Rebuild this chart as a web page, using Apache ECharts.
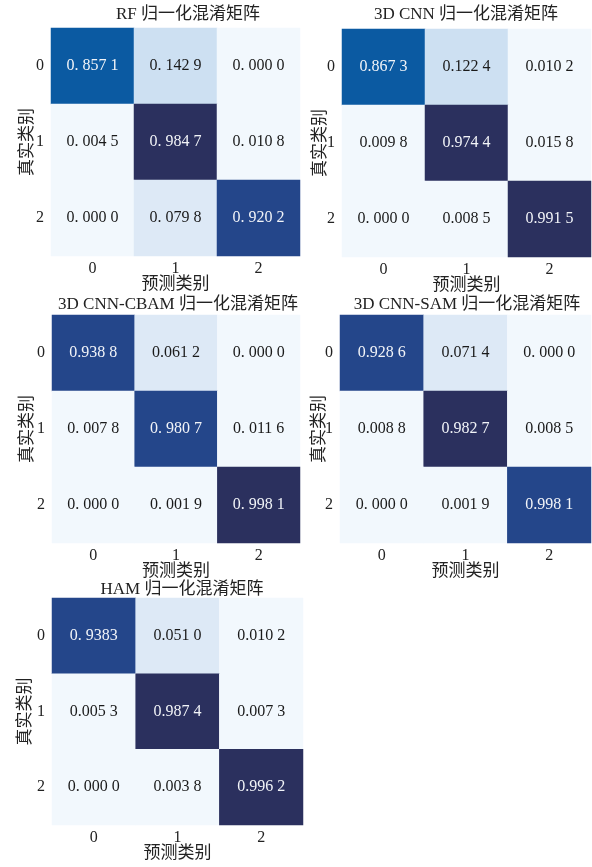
<!DOCTYPE html>
<html>
<head>
<meta charset="utf-8">
<script src="https://cdn.jsdelivr.net/npm/echarts@6/dist/echarts.min.js"></script>
<style>html,body{margin:0;padding:0;background:#fff}#c{width:592px;height:867px}</style>
</head>
<body>
<div id="c"></div>
<script>
const categories = ['0', '1', '2'];
const xName = '预测类别';
const yName = '真实类别';
const titles = ['RF 归一化混淆矩阵', '3D CNN 归一化混淆矩阵', '3D CNN-CBAM 归一化混淆矩阵', '3D CNN-SAM 归一化混淆矩阵', 'HAM 归一化混淆矩阵'];

const rfValues = [[0.8571, 0.1429, 0.0000], [0.0045, 0.9847, 0.0108], [0.0000, 0.0798, 0.9202]];
const rfLabels = [['0. 857 1', '0. 142 9', '0. 000 0'], ['0. 004 5', '0. 984 7', '0. 010 8'], ['0. 000 0', '0. 079 8', '0. 920 2']];
const cnnValues = [[0.8673, 0.1224, 0.0102], [0.0098, 0.9744, 0.0158], [0.0000, 0.0085, 0.9915]];
const cnnLabels = [['0.867 3', '0.122 4', '0.010 2'], ['0.009 8', '0.974 4', '0.015 8'], ['0. 000 0', '0.008 5', '0.991 5']];
const cbamValues = [[0.9388, 0.0612, 0.0000], [0.0078, 0.9807, 0.0116], [0.0000, 0.0019, 0.9981]];
const cbamLabels = [['0.938 8', '0.061 2', '0. 000 0'], ['0. 007 8', '0. 980 7', '0. 011 6'], ['0. 000 0', '0. 001 9', '0. 998 1']];
const samValues = [[0.9286, 0.0714, 0.0000], [0.0088, 0.9827, 0.0085], [0.0000, 0.0019, 0.9981]];
const samLabels = [['0.928 6', '0.071 4', '0. 000 0'], ['0.008 8', '0.982 7', '0.008 5'], ['0. 000 0', '0.001 9', '0.998 1']];
const hamValues = [[0.9383, 0.0510, 0.0102], [0.0053, 0.9874, 0.0073], [0.0000, 0.0038, 0.9962]];
const hamLabels = [['0. 9383', '0.051 0', '0.010 2'], ['0.005 3', '0.987 4', '0.007 3'], ['0. 000 0', '0.003 8', '0.996 2']];

const panels = [
  { values: rfValues, labels: rfLabels },
  { values: cnnValues, labels: cnnLabels },
  { values: cbamValues, labels: cbamLabels },
  { values: samValues, labels: samLabels },
  { values: hamValues, labels: hamLabels }
];

// layout
const grids = [
  { left: 51, top: 28, width: 249, height: 228 },
  { left: 342, top: 29, width: 249, height: 228 },
  { left: 52, top: 315, width: 248, height: 228 },
  { left: 340, top: 315, width: 251, height: 228 },
  { left: 52, top: 598, width: 251, height: 227 }
];
const titlePos = [[188, 6], [466, 6], [178, 296], [467, 296], [182, 581]];
const yNameGaps = [15, 13, 16, 12, 18];

const DARK = '#2b305e', MED = '#24468a', BLUE = '#0b5aa2';
const lowPieces = [
  { gte: 0.1, lt: 0.2, color: '#cde0f2' },
  { gte: 0.04, lt: 0.1, color: '#dde9f6' },
  { gte: 0, lt: 0.04, color: '#f2f8fd' },
  { gte: 0.8, lt: 0.9, color: BLUE }
];
const highPieces = [
  [{ gte: 0.9, lt: 0.97, color: MED }, { gte: 0.97, lte: 1, color: DARK }],
  [{ gte: 0.9, lte: 1, color: DARK }],
  [{ gte: 0.9, lt: 0.99, color: MED }, { gte: 0.99, lte: 1, color: DARK }],
  [{ gte: 0.9, lt: 0.95, color: MED }, { gte: 0.95, lt: 0.99, color: DARK }, { gte: 0.99, lte: 1, color: MED }],
  [{ gte: 0.9, lt: 0.95, color: MED }, { gte: 0.95, lte: 1, color: DARK }]
];

const FONT = '"Liberation Serif", "Noto Sans CJK SC", serif';
const option = {
  backgroundColor: '#fff',
  animation: false,
  title: titles.map((t, i) => ({
    text: t, left: titlePos[i][0], top: titlePos[i][1], textAlign: 'center', padding: 0,
    textStyle: { fontFamily: FONT, fontSize: 17, fontWeight: 'normal', color: '#222' }
  })),
  grid: grids,
  xAxis: grids.map((g, i) => ({
    type: 'category', gridIndex: i, data: categories, position: 'bottom',
    name: xName, nameLocation: 'middle', nameGap: 20, nameMoveOverlap: false,
    nameTextStyle: { fontFamily: FONT, fontSize: 17, color: '#222' },
    axisLine: { show: false }, axisTick: { show: false }, splitLine: { show: false },
    axisLabel: { fontFamily: FONT, fontSize: 16, color: '#222', margin: 5 }
  })),
  yAxis: grids.map((g, i) => ({
    type: 'category', gridIndex: i, data: categories, inverse: true,
    name: yName, nameLocation: 'middle', nameGap: yNameGaps[i], nameRotate: 90, nameMoveOverlap: false,
    nameTextStyle: { fontFamily: FONT, fontSize: 17, color: '#222' },
    axisLine: { show: false }, axisTick: { show: false }, splitLine: { show: false },
    axisLabel: { fontFamily: FONT, fontSize: 16, color: '#222', margin: 7 }
  })),
  visualMap: panels.map((p, i) => ({
    type: 'piecewise', show: false, seriesIndex: i, dimension: 2,
    pieces: highPieces[i].concat(lowPieces)
  })),
  series: panels.map((p, i) => {
    const data = [];
    p.values.forEach((row, r) => row.forEach((v, c) => {
      data.push({
        value: [c, r, v],
        label: { color: v > 0.5 ? '#f2f4f8' : '#1a1a1a' },
        name: p.labels[r][c]
      });
    }));
    return {
      type: 'heatmap', xAxisIndex: i, yAxisIndex: i, data: data,
      itemStyle: { borderWidth: 0 },
      label: { show: true, fontFamily: FONT, fontSize: 16, formatter: (d) => d.name }
    };
  })
};
const chart = echarts.init(document.getElementById('c'), null, { renderer: 'canvas' });
chart.setOption(option);
</script>
</body>
</html>
